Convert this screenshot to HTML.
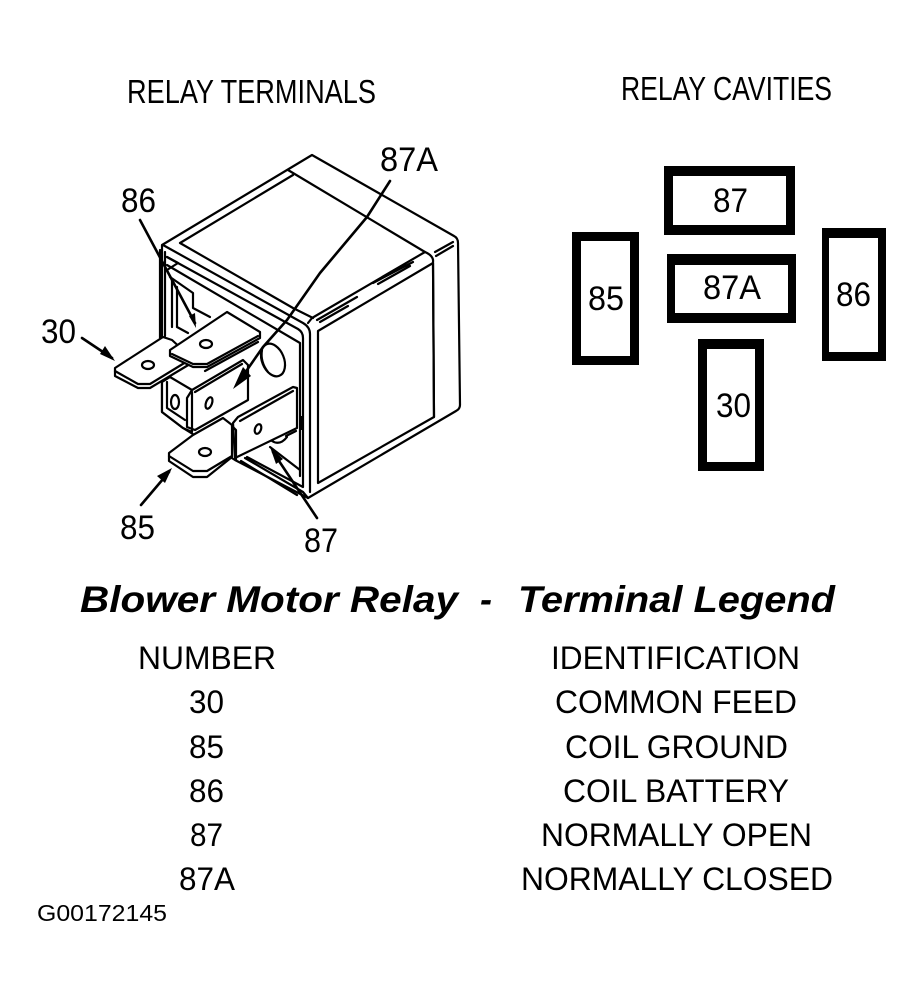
<!DOCTYPE html>
<html><head><meta charset="utf-8"><style>
html,body{margin:0;padding:0;background:#fff;width:923px;height:996px;overflow:hidden}
svg{display:block}
text{font-family:"Liberation Sans",sans-serif;fill:#000}
.l{font-size:34px}
.h{font-size:33px}
.t{font-size:32px}
.b{fill:#fff;stroke:#000;stroke-width:2.2;stroke-linejoin:round}
.n{fill:none;stroke:#000;stroke-width:2.2;stroke-linejoin:round;stroke-linecap:round}
.a{fill:none;stroke:#000;stroke-width:2.6;stroke-linecap:round;stroke-linejoin:round}
</style></head><body>
<svg width="923" height="996" viewBox="0 0 923 996" xmlns="http://www.w3.org/2000/svg">
<rect width="923" height="996" fill="#fff"/>

<text x="127" y="103" class="h" textLength="249" lengthAdjust="spacingAndGlyphs">RELAY TERMINALS</text>
<text x="621" y="100" class="h" textLength="211" lengthAdjust="spacingAndGlyphs">RELAY CAVITIES</text>

<!-- relay body -->
<path class="b" d="M162 245L312 155L454 236Q458 238 458 243L460 405Q460 409 456 411L308 498L235 460L183 428L162 412Z"/>
<path class="n" d="M288 170L425 252Q434 256 433 262L434 417"/>
<path class="n" d="M293 175L180 243L293 308L313 318"/>
<path class="n" d="M163 245L303 323Q310 327 310 334V492"/>
<path class="n" d="M312 318L425 252M317 320L357 297M320 322L348 306M373 283L413 262M378 284L410 266"/>
<path class="n" d="M435 252L453 242M436 256L453 246"/>
<path class="n" d="M318 331L433 263L434 417L318 483Z"/>
<path class="n" d="M308 323L312 318"/>
<!-- front face -->
<path class="n" d="M160 250V338M165 252V336M172 280V327M177 287V327M177 327L188 333"/>
<path class="n" d="M167 257L298 329Q303 332 303 338V477"/>
<path class="n" d="M167 265L300 343V476"/>
<path class="n" d="M167 257L178 263L167 270M170 277L193 293V308L210 317"/>
<path d="M300 416h4v14h-4z" fill="#000"/>
<!-- hole -->
<ellipse cx="273" cy="360" rx="11" ry="17" class="n" transform="rotate(-22 273 360)"/>
<path class="n" d="M262 350Q260 362 268 372"/>
<!-- lower area -->
<path class="n" d="M245 458L303 492L308 498M241 461L297 495M247 457L303 487V477"/>
<path class="n" d="M270 447L300 470"/>
<!-- lower left bracket -->
<path class="b" d="M162 382V412L183 428L192 432V390L170 377Z"/>
<path class="n" d="M167 382V408L185 420"/>
<ellipse cx="175" cy="402" rx="4" ry="7" class="n"/>

<!-- 87 terminal -->
<path class="b" d="M233 423L238 417L293 387L297 388V428L235 458Z"/>
<path class="n" d="M240 421L293 391"/>
<ellipse cx="258" cy="429" rx="3" ry="5" class="n" transform="rotate(20 258 429)"/>
<path class="n" d="M272 441Q280 446 287 437M286 436L296 431"/>
<!-- 85 terminal -->
<path class="b" d="M169 453L193 435L223 418L232 425V457L207 477H193L169 461Z"/>
<path class="n" d="M169 456L193 471H207L232 456M232 426L236 430V460"/>
<ellipse cx="205" cy="452" rx="6" ry="4" class="n"/>
<!-- 87A terminal -->
<path class="b" d="M187 398L192 390L243 360L248 365V400L195 430L187 427Z"/>
<path class="n" d="M195 392L242 364M192 392V430"/>
<ellipse cx="209" cy="403" rx="3" ry="6" class="n" transform="rotate(20 209 403)"/>
<!-- 30 terminal -->
<path class="b" d="M115 368L163 337L172 340L185 352L190 364L150 388H138L115 376Z"/>
<path class="n" d="M115 371L138 384H150L186 362"/>
<ellipse cx="148" cy="365" rx="6" ry="4" class="n"/>
<!-- 86 terminal -->
<path class="b" d="M170 350L227 312L260 332V338L207 367H193L170 356Z"/>
<path class="n" d="M172 354L193 364H207L258 336M205 371L258 342"/>
<ellipse cx="206" cy="344" rx="6" ry="4" class="n"/>

<!-- leaders -->
<path class="a" d="M140 220L195 323"/>
<path d="M196 328L189 316L195 313Z" fill="#000"/>
<path class="a" d="M390 181L367 217L320 273L287 320L263 347L240 380"/>
<path d="M233 389L243 367L251 376Z" fill="#000"/>
<path class="a" d="M82 338L112 358"/>
<path d="M115 361L100 354L105 346Z" fill="#000"/>
<path class="a" d="M141 505L169 472"/>
<path d="M172 468L165 483L157 476Z" fill="#000"/>
<path class="a" d="M317 518L273 452"/>
<path d="M270 447L283 459L276 464Z" fill="#000"/>

<text x="121" y="212" class="l" textLength="35" lengthAdjust="spacingAndGlyphs">86</text>
<text x="380" y="171" class="l" textLength="58" lengthAdjust="spacingAndGlyphs">87A</text>
<text x="41" y="343" class="l" textLength="35" lengthAdjust="spacingAndGlyphs">30</text>
<text x="120" y="539" class="l" textLength="35" lengthAdjust="spacingAndGlyphs">85</text>
<text x="304" y="552" class="l" textLength="34" lengthAdjust="spacingAndGlyphs">87</text>

<!-- cavities -->
<path fill="#000" fill-rule="evenodd" d="M664 166H795V235H664ZM673 176V225H786V176Z"/>
<path fill="#000" fill-rule="evenodd" d="M667 254H796V323H667ZM675 265V313H788V265Z"/>
<path fill="#000" fill-rule="evenodd" d="M572 232H639V365H572ZM581 241V356H630V241Z"/>
<path fill="#000" fill-rule="evenodd" d="M822 228H886V361H822ZM829 238V352H878V238Z"/>
<path fill="#000" fill-rule="evenodd" d="M698 339H764V471H698ZM707 349V462H755V349Z"/>
<text x="713" y="212" class="l" textLength="35" lengthAdjust="spacingAndGlyphs">87</text>
<text x="703" y="299" class="l" textLength="58" lengthAdjust="spacingAndGlyphs">87A</text>
<text x="588" y="310" class="l" textLength="36" lengthAdjust="spacingAndGlyphs">85</text>
<text x="836" y="306" class="l" textLength="35" lengthAdjust="spacingAndGlyphs">86</text>
<text x="716" y="417" class="l" textLength="35" lengthAdjust="spacingAndGlyphs">30</text>

<!-- legend -->
<g style="font-weight:bold;font-style:italic;font-size:37px">
<text x="80" y="612" textLength="378" lengthAdjust="spacingAndGlyphs">Blower Motor Relay</text>
<text x="480" y="612" textLength="12" lengthAdjust="spacingAndGlyphs">-</text>
<text x="518" y="612" textLength="317" lengthAdjust="spacingAndGlyphs">Terminal Legend</text>
</g>
<text x="138" y="669" class="t" textLength="138" lengthAdjust="spacingAndGlyphs">NUMBER</text>
<text x="189" y="713" class="t" textLength="35" lengthAdjust="spacingAndGlyphs">30</text>
<text x="189" y="758" class="t" textLength="35" lengthAdjust="spacingAndGlyphs">85</text>
<text x="189" y="802" class="t" textLength="35" lengthAdjust="spacingAndGlyphs">86</text>
<text x="190" y="846" class="t" textLength="33" lengthAdjust="spacingAndGlyphs">87</text>
<text x="179" y="890" class="t" textLength="56" lengthAdjust="spacingAndGlyphs">87A</text>
<text x="551" y="669" class="t" textLength="249" lengthAdjust="spacingAndGlyphs">IDENTIFICATION</text>
<text x="555" y="713" class="t" textLength="242" lengthAdjust="spacingAndGlyphs">COMMON FEED</text>
<text x="565" y="758" class="t" textLength="223" lengthAdjust="spacingAndGlyphs">COIL GROUND</text>
<text x="563" y="802" class="t" textLength="226" lengthAdjust="spacingAndGlyphs">COIL BATTERY</text>
<text x="541" y="846" class="t" textLength="271" lengthAdjust="spacingAndGlyphs">NORMALLY OPEN</text>
<text x="521" y="890" class="t" textLength="312" lengthAdjust="spacingAndGlyphs">NORMALLY CLOSED</text>
<text x="37" y="921" style="font-size:23px" textLength="130" lengthAdjust="spacingAndGlyphs">G00172145</text>
</svg>
</body></html>
